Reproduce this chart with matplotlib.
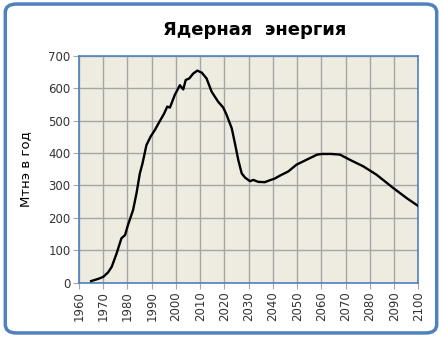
import matplotlib
matplotlib.use("Agg")
import matplotlib.pyplot as plt
from matplotlib.patches import FancyBboxPatch

# ядерная энергия, Мтнэ в год
years = [1965, 1968, 1970, 1972, 1973.5, 1975.5, 1977.5, 1979, 1980.2, 1982.3,
         1983.7, 1985.1, 1986.2, 1987.8, 1989.5, 1991.3, 1993.3, 1995, 1996.4,
         1997.5, 1999.5, 2001.6, 2003, 2004, 2005.5, 2007.1, 2008.8, 2010.6,
         2012.6, 2014.7, 2017.4, 2019.5, 2020.9, 2023, 2024.3, 2025.7, 2027.1,
         2028.5, 2030.5, 2031.9, 2033.9, 2036.6, 2038.7, 2040.7, 2042.8,
         2046.3, 2049.7, 2053.8, 2058.2, 2060.2, 2064, 2067.6, 2071.7, 2077.2,
         2082.7, 2089.6, 2095.1, 2100]
values = [5, 12, 18, 32, 49, 90, 137, 147, 178, 224,
          275, 337, 368, 424, 450, 471, 498, 520, 543,
          540, 579, 609, 596, 625, 630, 645, 654, 648,
          630, 589, 558, 540, 517, 476, 430, 378, 337,
          324, 313, 317, 311, 310, 316, 321, 330,
          343, 364, 379, 395, 397, 397, 395, 379, 359,
          333, 292, 261, 236]

title = "Ядерная  энергия"
ylabel = "Мтнэ в год"
xticks = list(range(1960, 2101, 10))
yticks = list(range(0, 701, 100))

blue = "#4F81BD"

fig = plt.figure(figsize=(4.42, 3.37), dpi=100)
fig.patch.set_facecolor("white")

# rounded frame round the whole chart
frame = FancyBboxPatch((0.012, 0.012), 0.976, 0.976,
                       boxstyle="round,pad=0,rounding_size=0.025",
                       transform=fig.transFigure, facecolor="none",
                       edgecolor=blue, linewidth=2.5)
fig.patches.append(frame)

ax = fig.add_axes([0.1787, 0.1611, 0.7681, 0.6736])
ax.set_facecolor("#EEECE1")
ax.plot(years, values, color="black", linewidth=1.7, zorder=3)

ax.set_xlim(1960, 2100)
ax.set_ylim(0, 700)
ax.set_xticks(xticks)
ax.set_yticks(yticks)
ax.set_xticklabels([str(x) for x in xticks], rotation=90, fontsize=8.5, color="#333333")
ax.set_yticklabels([str(y) for y in yticks], fontsize=8.5, color="#333333")
ax.grid(True, color="#A6A6A6", linewidth=1.0, zorder=0)
ax.set_axisbelow(True)
ax.tick_params(length=4, color="#A6A6A6", pad=2)
for s in ax.spines.values():
    s.set_color(blue)
    s.set_linewidth(1.2)

ax.set_ylabel(ylabel, fontsize=9.5, labelpad=12)
fig.text(0.577, 0.91, title, ha="center", va="center",
         fontsize=13, fontweight="bold")

fig.savefig("out.png", dpi=100)
